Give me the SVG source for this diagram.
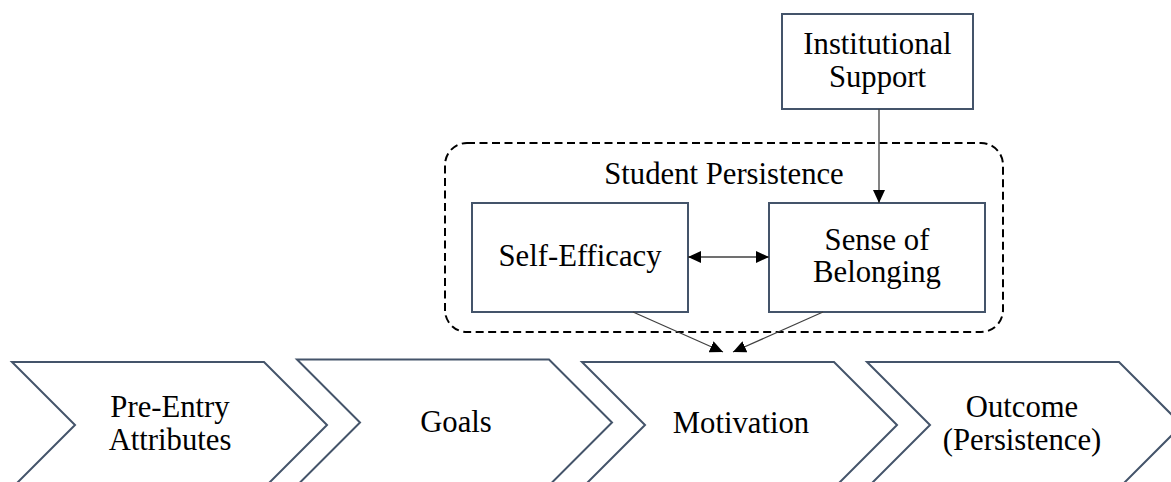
<svg xmlns="http://www.w3.org/2000/svg" width="1171" height="482" viewBox="0 0 1171 482">
  <style>
    .lbl { font-family: "Liberation Serif", "Times New Roman", serif; font-size: 30.7px; fill: #000; text-anchor: middle; }
    .box { fill: #fff; stroke: #44546A; stroke-width: 2; }
    .chev { fill: #fff; stroke: #44546A; stroke-width: 2; stroke-linejoin: miter; }
    .group { fill: none; stroke: #000; stroke-width: 2; stroke-dasharray: 8 4.5; }
    .link { fill: none; stroke: #404040; stroke-width: 1.3; }
  </style>
  <defs>
    <marker id="head" viewBox="0 0 13 12" refX="13" refY="6" markerWidth="13" markerHeight="12" markerUnits="userSpaceOnUse" orient="auto-start-reverse">
      <path d="M0,0 L13,6 L0,12 z" fill="#000"/>
    </marker>
  </defs>
  <rect width="1171" height="482" fill="#fff"/>

  <!-- process chevrons along the bottom -->
  <g id="pre-entry">
    <polygon class="chev" points="12,362 264,362 327,425 264,488 12,488 75,425"/>
    <text class="lbl" x="170" y="417">Pre-Entry</text>
    <text class="lbl" x="170" y="450">Attributes</text>
  </g>
  <g id="goals">
    <polygon class="chev" points="297,359.5 549,359.5 612,422.5 549,485.5 297,485.5 360,422.5"/>
    <text class="lbl" x="456" y="432">Goals</text>
  </g>
  <g id="motivation">
    <polygon class="chev" points="582,362 834,362 897,425 834,488 582,488 645,425"/>
    <text class="lbl" x="741" y="433">Motivation</text>
  </g>
  <g id="outcome">
    <polygon class="chev" points="867,362 1119,362 1182,425 1119,488 867,488 930,425"/>
    <text class="lbl" x="1022" y="417">Outcome</text>
    <text class="lbl" x="1022" y="450">(Persistence)</text>
  </g>

  <!-- dashed grouping -->
  <g id="student-persistence">
    <rect class="group" x="445" y="143" width="558" height="189" rx="22" ry="22"/>
    <text class="lbl" x="724" y="184">Student Persistence</text>
  </g>

  <g id="institutional-support">
    <rect class="box" x="782" y="14" width="191" height="95"/>
    <text class="lbl" x="877.5" y="54">Institutional</text>
    <text class="lbl" x="877.5" y="87">Support</text>
  </g>
  <g id="self-efficacy">
    <rect class="box" x="472" y="203" width="216" height="109"/>
    <text class="lbl" x="580" y="266">Self-Efficacy</text>
  </g>
  <g id="sense-of-belonging">
    <rect class="box" x="769" y="203" width="216" height="109"/>
    <text class="lbl" x="877" y="250">Sense of</text>
    <text class="lbl" x="877" y="282">Belonging</text>
  </g>

  <!-- connectors -->
  <g id="connectors">
    <line class="link" x1="879" y1="109" x2="879" y2="203" marker-end="url(#head)"/>
    <line class="link" x1="688" y1="257" x2="769" y2="257" marker-start="url(#head)" marker-end="url(#head)"/>
    <line class="link" x1="633" y1="312" x2="723" y2="352" marker-end="url(#head)"/>
    <line class="link" x1="823" y1="312" x2="733" y2="352" marker-end="url(#head)"/>
  </g>
</svg>
